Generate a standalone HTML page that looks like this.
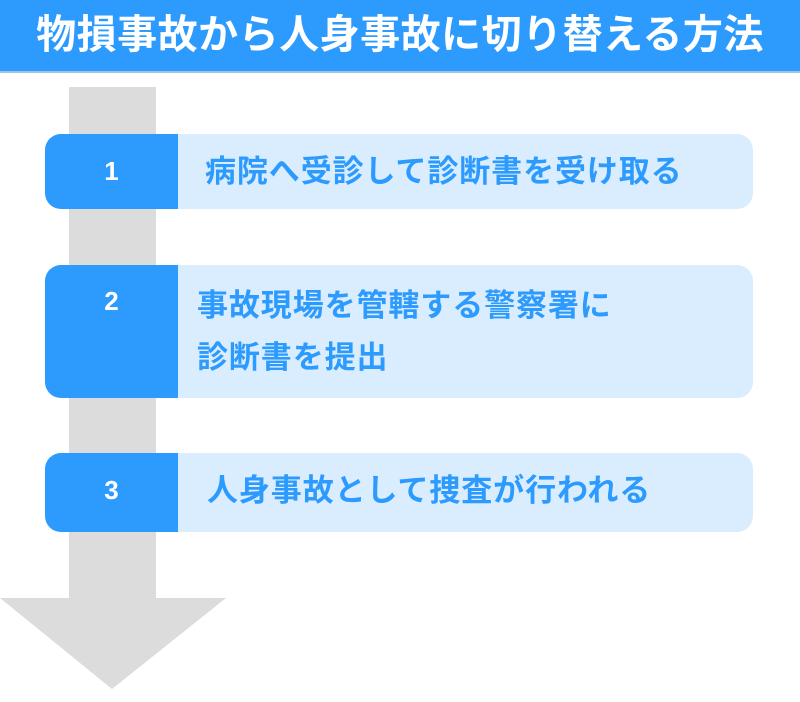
<!DOCTYPE html>
<html><head><meta charset="utf-8"><style>
body{margin:0;width:800px;height:702px;background:#fff;position:relative;overflow:hidden;font-family:"Liberation Sans","Noto Sans CJK JP",sans-serif;font-weight:bold}
.hd{position:absolute;left:0;top:0;width:800px;height:73px;background:#2d9bfd;color:#fff;font-size:40px;text-align:center;line-height:70px;border-bottom:2px solid #9fc4e0;box-sizing:border-box;white-space:nowrap;letter-spacing:0.5px}
.shaft{position:absolute;left:69px;top:87px;width:87px;height:512px;background:#dcdcdc}
.box{position:absolute;left:45px;width:708px;background:#daedfe;border-radius:16px;overflow:hidden}
.num{position:absolute;left:0;top:0;bottom:0;width:133px;background:#2d9bfd;color:#fff;font-size:26px;text-align:center}
.t{position:absolute;color:#2d9bfd;font-size:31px;white-space:nowrap;line-height:40px;letter-spacing:0.9px}
</style></head><body>
<div class="hd">物損事故から人身事故に切り替える方法</div>
<div class="shaft"></div>
<svg style="position:absolute;left:0;top:0" width="800" height="702"><polygon points="0,598 226,598 112,689" fill="#dcdcdc"/></svg>
<div class="box" style="top:134px;height:75px"><div class="num" style="line-height:75px">1</div><div class="t" style="left:160px;top:18px">病院へ受診して診断書を受け取る</div></div>
<div class="box" style="top:265px;height:133px"><div class="num" style="line-height:72px">2</div><div class="t" style="left:152px;top:15px;line-height:52px">事故現場を管轄する警察署に<br>診断書を提出</div></div>
<div class="box" style="top:453px;height:79px"><div class="num" style="line-height:74px">3</div><div class="t" style="left:162px;top:18px">人身事故として捜査が行われる</div></div>
</body></html>
